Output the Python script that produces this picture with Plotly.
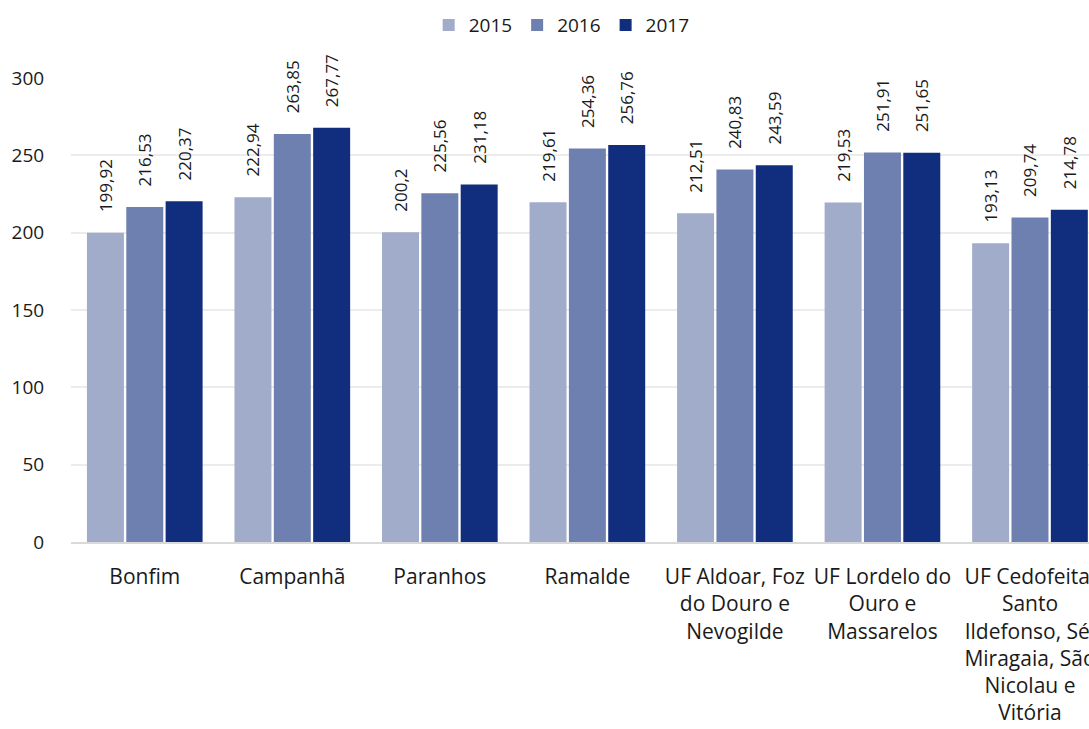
import plotly.graph_objects as go

categories = [
    "Bonfim",
    "Campanhã",
    "Paranhos",
    "Ramalde",
    "UF Aldoar, Foz<br>do Douro e<br>Nevogilde",
    "UF Lordelo do<br>Ouro e<br>Massarelos",
    "UF Cedofeita,<br>Santo<br>Ildefonso, Sé,<br>Miragaia, São<br>Nicolau e<br>Vitória",
]
years = ["2015", "2016", "2017"]
values_2015 = [199.92, 222.94, 200.2, 219.61, 212.51, 219.53, 193.13]
values_2016 = [216.53, 263.85, 225.56, 254.36, 240.83, 251.91, 209.74]
values_2017 = [220.37, 267.77, 231.18, 256.76, 243.59, 251.65, 214.78]
colors = ["#a0acca", "#6e80b0", "#102e7d"]

NBSP = "\u00a0"

fig = go.Figure()
for year, vals, col in zip(years, [values_2015, values_2016, values_2017], colors):
    fig.add_trace(go.Bar(
        name=year,
        x=categories,
        y=vals,
        marker=dict(color=col, line=dict(width=0)),
        # labels read bottom-to-top; leading spaces lift them off the bar
        text=[NBSP * 4 + str(v).replace(".", ",") for v in vals],
        textposition="outside",
        textangle=-90,
        constraintext="none",
        textfont=dict(family="Open Sans", size=17, color="#1a1a1a"),
        cliponaxis=False,
    ))

fig.update_layout(
    width=1089,
    height=729,
    barmode="group",
    bargap=0.2,
    bargroupgap=0.06,
    plot_bgcolor="white",
    paper_bgcolor="white",
    margin=dict(l=71, r=0, t=78, b=187),
    font=dict(family="Open Sans", size=20, color="#1a1a1a"),
    legend=dict(
        orientation="h",
        x=0.482, xanchor="center",
        y=1.114, yanchor="middle",
        font=dict(size=19),
        traceorder="normal",
        itemwidth=30,
    ),
    xaxis=dict(
        range=[-0.5, 6.4],
        automargin=False,
        showline=True,
        linecolor="#d9d9d9",
        linewidth=1.5,
        ticks="outside",
        ticklen=15,
        tickcolor="rgba(0,0,0,0)",
        tickfont=dict(size=21),
    ),
    yaxis=dict(
        range=[0, 300],
        automargin=False,
        tickvals=[0, 50, 100, 150, 200, 250, 300],
        showgrid=True,
        gridcolor="#ececec",
        gridwidth=1.5,
        zeroline=False,
        ticks="outside",
        ticklen=22,
        tickcolor="rgba(0,0,0,0)",
        tickfont=dict(size=19),
    ),
)

fig.write_html("out.html")
